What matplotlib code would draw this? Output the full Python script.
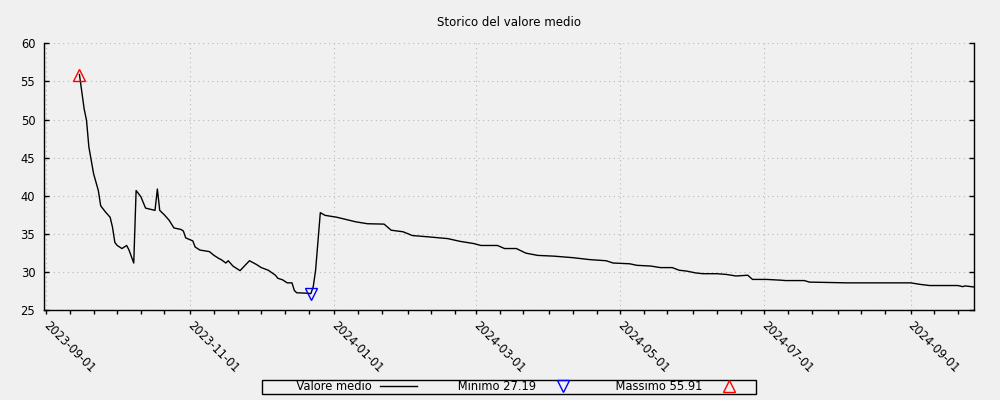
import matplotlib
matplotlib.use("Agg")
import matplotlib.pyplot as plt
import matplotlib.dates as mdates
import matplotlib.transforms as mtransforms
from matplotlib.patches import Rectangle
import numpy as np
import pandas as pd

# dati
date = ['2023-09-15', '2023-09-17', '2023-09-18', '2023-09-19', '2023-09-21', '2023-09-23', '2023-09-24',
        '2023-09-26', '2023-09-28', '2023-09-29', '2023-09-30',
        '2023-10-01', '2023-10-03', '2023-10-05', '2023-10-06', '2023-10-08', '2023-10-09', '2023-10-11',
        '2023-10-13', '2023-10-17', '2023-10-18', '2023-10-19', '2023-10-21', '2023-10-23', '2023-10-25',
        '2023-10-28', '2023-10-29', '2023-10-30',
        '2023-11-02', '2023-11-03', '2023-11-05', '2023-11-09', '2023-11-11', '2023-11-13', '2023-11-14',
        '2023-11-16', '2023-11-17', '2023-11-19', '2023-11-22', '2023-11-26', '2023-11-29',
        '2023-12-01', '2023-12-04', '2023-12-07', '2023-12-08', '2023-12-10', '2023-12-12', '2023-12-14',
        '2023-12-15', '2023-12-16', '2023-12-20', '2023-12-22', '2023-12-23', '2023-12-24', '2023-12-26',
        '2023-12-28',
        '2024-01-02', '2024-01-06', '2024-01-10', '2024-01-15', '2024-01-22', '2024-01-25', '2024-01-30',
        '2024-02-03', '2024-02-09', '2024-02-18', '2024-02-23', '2024-02-29',
        '2024-03-03', '2024-03-10', '2024-03-13', '2024-03-18', '2024-03-22', '2024-03-27',
        '2024-04-03', '2024-04-11', '2024-04-18', '2024-04-25', '2024-04-28',
        '2024-05-05', '2024-05-08', '2024-05-14', '2024-05-18', '2024-05-23', '2024-05-26', '2024-05-29',
        '2024-06-02', '2024-06-05', '2024-06-11', '2024-06-15', '2024-06-19', '2024-06-24', '2024-06-26',
        '2024-07-02', '2024-07-08', '2024-07-10', '2024-07-18', '2024-07-20',
        '2024-08-05',
        '2024-09-01', '2024-09-05', '2024-09-09', '2024-09-21', '2024-09-23', '2024-09-24', '2024-09-28']

valore = [55.91, 51.4, 49.9, 46.4, 42.9, 40.7, 38.7, 37.9, 37.2, 35.9, 33.9,
          33.5, 33.1, 33.5, 32.9, 31.2, 40.7, 39.9, 38.4, 38.1, 40.9, 38.1, 37.5, 36.8, 35.8, 35.6, 35.4, 34.5,
          34.1, 33.3, 32.9, 32.7, 32.2, 31.8, 31.65, 31.2, 31.5, 30.8, 30.2, 31.5, 31.0,
          30.6, 30.25, 29.6, 29.2, 29.0, 28.6, 28.6, 27.6, 27.3, 27.25, 27.19, 28.1, 30.25, 37.8, 37.45,
          37.2, 36.9, 36.6, 36.35, 36.3, 35.5, 35.3,
          34.8, 34.65, 34.4, 34.05, 33.75,
          33.5, 33.5, 33.1, 33.1, 32.5, 32.2,
          32.1, 31.9, 31.65, 31.5, 31.2,
          31.1, 30.9, 30.8, 30.6, 30.6, 30.25, 30.15,
          29.9, 29.8, 29.8, 29.7, 29.5, 29.6, 29.05,
          29.05, 28.95, 28.9, 28.9, 28.7,
          28.6,
          28.6, 28.4, 28.25, 28.25, 28.1, 28.2, 28.05]

yticks = [25, 30, 35, 40, 45, 50, 55, 60]

giorni = pd.to_datetime(date)
v = np.array(valore)
imin = v.argmin()
imax = v.argmax()

bg = '#f0f0f0'
fs = 8.3
fig = plt.figure(figsize=(10, 4), dpi=100, facecolor=bg)
ax = fig.add_axes([0.0443, 0.2242, 0.93, 0.6675])
ax.set_facecolor(bg)

linea, = ax.plot(giorni, v, color='black', lw=1)
pmin, = ax.plot(giorni[imin], v[imin], 'v', ms=9, mfc='none', mec='blue', mew=1)
pmax, = ax.plot(giorni[imax], v[imax], '^', ms=9, mfc='none', mec='red', mew=1)

ax.set_ylim(25, 60)
ax.set_yticks(yticks)
ax.set_xlim(pd.Timestamp('2023-08-31 03:00'), pd.Timestamp('2024-09-27 22:00'))
ax.xaxis.set_major_locator(mdates.MonthLocator(bymonth=[1, 3, 5, 7, 9, 11]))
ax.xaxis.set_minor_locator(mdates.DayLocator(bymonthday=[1, 11, 21]))
ax.xaxis.set_major_formatter(mdates.DateFormatter('%Y-%m-%d'))

ax.grid(True, which='major', color='#b8b8b8', linestyle=(0, (1, 3.2)), lw=0.8)
ax.spines['top'].set_visible(False)
for s in ['left', 'bottom', 'right']:
    ax.spines[s].set_linewidth(1)

ax.tick_params(axis='x', which='both', direction='out', length=2.9, width=1, pad=3.5, labelsize=fs)
ax.tick_params(axis='y', which='both', direction='in', length=3.6, width=1, pad=6.5,
               left=True, right=True, labelsize=fs)

# etichette delle date ruotate e spostate un po' a destra
sposta = mtransforms.ScaledTranslation(3.7 / 100, 0, fig.dpi_scale_trans)
for lab in ax.get_xticklabels():
    lab.set_rotation(-45)
    lab.set_ha('left')
    lab.set_va('top')
    lab.set_rotation_mode('anchor')
    lab.set_transform(lab.get_transform() + sposta)

ax.set_title('Storico del valore medio', fontsize=8.5, pad=12.5)

etichette = ['       Valore medio',
             '      Minimo %.2f' % v[imin],
             '    Massimo %.2f' % v[imax]]
leg = fig.legend([linea, pmin, pmax], etichette, loc='center', bbox_to_anchor=(0.509, 0.0325),
                 ncol=3, frameon=False, markerfirst=False, fontsize=fs, handlelength=3.17,
                 handletextpad=0.74, columnspacing=1.7, borderpad=0, borderaxespad=0)

# cornice della legenda con margini diversi in orizzontale e verticale
fig.canvas.draw()
bb = leg.get_window_extent().transformed(fig.transFigure.inverted())
fig.patches.append(Rectangle((bb.x0 - 0.009, bb.y0 - 0.00125), bb.width + 0.018, bb.height + 0.0025,
                             transform=fig.transFigure, fill=False, edgecolor='black', lw=1))

fig.savefig('out.png', dpi=100, facecolor=bg)
